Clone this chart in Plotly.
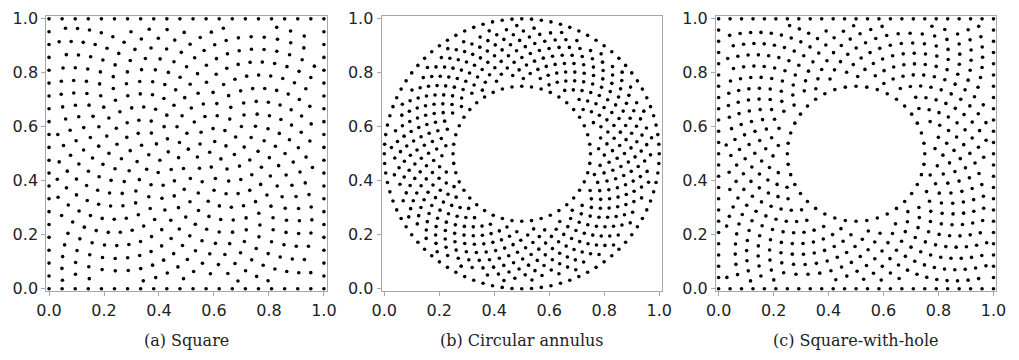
import numpy as np
import plotly.graph_objects as go

# NOTE: The reference shows several hundred scattered nodes per panel, and
# their individual coordinates cannot be read from the picture. Only the
# parameters below were read from it: points per edge, the radii, ring counts
# and approximate spacing. The interior node positions are an APPROXIMATION
# built with a deterministic sunflower (golden-angle) layout that gives the
# same density and look. They are not the original coordinates.

# ---- values ----
panel_titles = ["(a) Square", "(b) Circular annulus", "(c) Square-with-hole"]
tick_vals = [0.0, 0.2, 0.4, 0.6, 0.8, 1.0]
tick_text = ["0.0", "0.2", "0.4", "0.6", "0.8", "1.0"]
edge_points_square = [22]          # points per edge, panel (a)
edge_points_hole = [25]            # points per edge, panel (c)
annulus_radii = [0.25, 0.5]        # inner / outer radius, panel (b)
hole_radius = [0.25]               # panel (c)
centre = [0.5, 0.5]
ring_counts_annulus = [44, 88]     # boundary points on inner / outer circle
ring_count_hole = [40]
interior_spacing = [0.048, 0.034, 0.041]  # approx. nearest-neighbour spacing

GOLD = np.pi * (3 - np.sqrt(5))


def square_edges(n):
    t = np.linspace(0, 1, n)
    xs = np.concatenate([t, t, np.zeros(n - 2), np.ones(n - 2)])
    ys = np.concatenate([np.zeros(n), np.ones(n), t[1:-1], t[1:-1]])
    return xs, ys


def ring(n, r, phase=0.0):
    a = phase + 2 * np.pi * np.arange(n) / n
    return centre[0] + r * np.cos(a), centre[1] + r * np.sin(a)


def sunflower(rmin, rmax, spacing):
    area = np.pi * (rmax ** 2 - rmin ** 2)
    n = int(area / (spacing ** 2 * 0.93))
    k = np.arange(n) + 0.5
    r = np.sqrt(rmin ** 2 + (rmax ** 2 - rmin ** 2) * k / n)
    a = k * GOLD
    return centre[0] + r * np.cos(a), centre[1] + r * np.sin(a)


# panel (a)
ax_b, ay_b = square_edges(edge_points_square[0])
d = interior_spacing[0]
sx, sy = sunflower(0.0, 0.75, d)
m = (sx > 0.6 * d) & (sx < 1 - 0.6 * d) & (sy > 0.6 * d) & (sy < 1 - 0.6 * d)
xa = np.concatenate([ax_b, sx[m]])
ya = np.concatenate([ay_b, sy[m]])

# panel (b)
d = interior_spacing[1]
ix, iy = ring(ring_counts_annulus[0], annulus_radii[0])
ox, oy = ring(ring_counts_annulus[1], annulus_radii[1])
sx, sy = sunflower(annulus_radii[0] + 0.7 * d, annulus_radii[1] - 0.7 * d, d)
xb = np.concatenate([ix, ox, sx])
yb = np.concatenate([iy, oy, sy])

# panel (c)
d = interior_spacing[2]
cx_b, cy_b = square_edges(edge_points_hole[0])
hx, hy = ring(ring_count_hole[0], hole_radius[0])
sx, sy = sunflower(hole_radius[0] + 0.7 * d, 0.75, d)
m = (sx > 0.6 * d) & (sx < 1 - 0.6 * d) & (sy > 0.6 * d) & (sy < 1 - 0.6 * d)
xc = np.concatenate([cx_b, hx, sx[m]])
yc = np.concatenate([cy_b, hy, sy[m]])

W, H = 1019, 360
x_domains = [(37 / W, 323 / W), (379 / W, 665 / W), (720 / W, 1006 / W)]
y_domain = (1 - 296 / H, 1 - 9.5 / H)

fig = go.Figure()
data = [(xa, ya), (xb, yb), (xc, yc)]
for i, (xs, ys) in enumerate(data):
    sfx = "" if i == 0 else str(i + 1)
    fig.add_trace(go.Scatter(
        x=xs, y=ys, mode="markers",
        marker=dict(color="black", size=3.6, line=dict(width=0)),
        xaxis="x" + sfx, yaxis="y" + sfx, showlegend=False, hoverinfo="skip"))
    axis_common = dict(
        range=[-0.01, 1.01], tickvals=tick_vals, ticktext=tick_text,
        showline=True, mirror=True, linecolor="#a8a8a8", linewidth=1,
        ticks="outside", ticklen=4, tickcolor="#a8a8a8", tickwidth=1,
        showgrid=False, zeroline=False,
        tickfont=dict(family="DejaVu Sans", size=16, color="#222222"))
    fig.layout["xaxis" + sfx] = dict(axis_common, domain=list(x_domains[i]),
                                     anchor="y" + sfx)
    fig.layout["yaxis" + sfx] = dict(axis_common, domain=list(y_domain),
                                     anchor="x" + sfx, ticklabelstandoff=0)
    fig.add_annotation(
        text=panel_titles[i], xref="paper", yref="paper",
        x=(x_domains[i][0] + x_domains[i][1]) / 2, y=1 - 347 / H,
        xanchor="center", yanchor="middle", showarrow=False,
        font=dict(family="DejaVu Serif", size=16, color="#222222"))

fig.update_layout(width=W, height=H, margin=dict(l=0, r=0, t=0, b=0),
                  paper_bgcolor="white", plot_bgcolor="white")
fig.write_html("out.html")
